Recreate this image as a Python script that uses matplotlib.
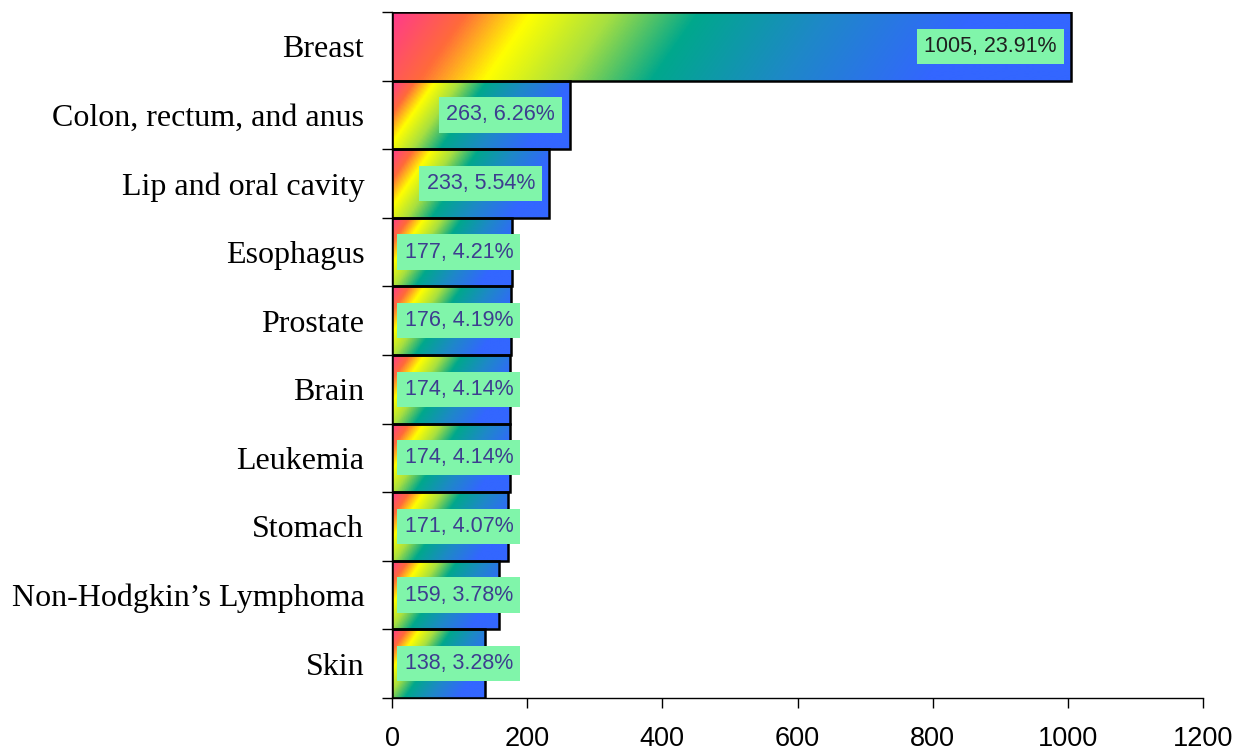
import numpy as np
import matplotlib
matplotlib.use("Agg")
import matplotlib.pyplot as plt
from matplotlib.colors import LinearSegmentedColormap
from matplotlib.patches import Rectangle

sites = ["Breast", "Colon, rectum, and anus", "Lip and oral cavity", "Esophagus",
         "Prostate", "Brain", "Leukemia", "Stomach", "Non-Hodgkin\u2019s Lymphoma", "Skin"]
counts = [1005, 263, 233, 177, 176, 174, 174, 171, 159, 138]
shares = [23.91, 6.26, 5.54, 4.21, 4.19, 4.14, 4.14, 4.07, 3.78, 3.28]
xticks = [0, 200, 400, 600, 800, 1000, 1200]

grad = LinearSegmentedColormap.from_list("bar_grad", [
    (0.00, "#ff3a8c"), (0.10, "#ff6a3a"), (0.19, "#ffff00"), (0.30, "#a8e040"),
    (0.42, "#00a88c"), (0.60, "#1e88c8"), (0.80, "#3366ff"), (1.00, "#3366ff")])

fig = plt.figure(figsize=(12.43, 7.51), dpi=100)
ax = fig.add_axes([0.3154, 0.0706, 0.6524, 0.9134])
ax.set_xlim(0, 1200)
ax.set_ylim(len(sites) - 0.5, -0.5)

# pixel size of one data unit, used to keep the gradient angle fixed on screen
fig_w, fig_h = fig.get_size_inches() * fig.dpi
px_x = ax.get_position().width * fig_w / 1200
px_y = ax.get_position().height * fig_h / len(sites)

nx, ny = 0.819, 0.574
for i, v in enumerate(counts):
    W, H = max(int(v * px_x), 2), max(int(px_y), 2)
    xx, yy = np.meshgrid(np.arange(W), np.arange(H))
    t = (nx * xx + ny * yy) / (nx * W + ny * H)
    img = grad(t)
    im = ax.imshow(img, extent=(0, v, i + 0.5, i - 0.5), origin="upper",
                   aspect="auto", interpolation="bilinear", zorder=2)
    rect = Rectangle((0, i - 0.5), v, 1.0, facecolor="none", edgecolor="black",
                     linewidth=1.8, zorder=3)
    ax.add_patch(rect)
    im.set_clip_path(rect)

    label = f"{v}, {shares[i]:.2f}%"
    color = "#1f1f1f" if i == 0 else "#3d3d8f"
    box = dict(boxstyle="square,pad=0.33", facecolor="#80f5aa", edgecolor="none")
    if v >= 200:
        ax.annotate(label, (v, i), xytext=(-10.5, 0), textcoords="offset points",
                    ha="right", va="center", fontsize=15.5, color=color,
                    family="Liberation Sans", bbox=box, zorder=4)
    else:
        ax.annotate(label, (0, i), xytext=(9, 0), textcoords="offset points",
                    ha="left", va="center", fontsize=15.5, color=color,
                    family="Liberation Sans", bbox=box, zorder=4)

ax.set_xlim(0, 1200)
ax.set_ylim(len(sites) - 0.5, -0.5)

ax.set_yticks(np.arange(len(sites) + 1) - 0.5)
ax.set_yticklabels([])
ax.set_yticks(np.arange(len(sites)), minor=True)
ax.set_yticklabels(sites, minor=True, family="Liberation Serif", fontsize=23)
ax.tick_params(axis="y", which="major", direction="out", length=7, width=1)
ax.tick_params(axis="y", which="minor", length=0, pad=20)

ax.set_xticks(xticks)
ax.set_xticklabels([str(x) for x in xticks], family="Liberation Sans", fontsize=19.5)
ax.tick_params(axis="x", direction="out", length=7, width=1, pad=13)

for s in ["top", "right"]:
    ax.spines[s].set_visible(False)
for s in ["left", "bottom"]:
    ax.spines[s].set_linewidth(1.0)
ax.set_axisbelow(False)

fig.savefig("out.png", dpi=100)
